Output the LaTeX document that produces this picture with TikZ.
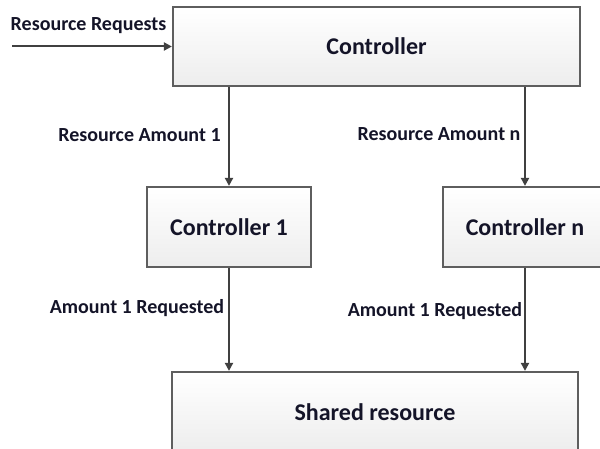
\documentclass[tikz,border=0pt]{standalone}
\usepackage{fontspec}
\setmainfont{Carlito}
\usetikzlibrary{arrows.meta}
\definecolor{boxline}{HTML}{5E5E5E}
\definecolor{arrowc}{HTML}{404040}
\definecolor{txt}{HTML}{141428}
\begin{document}
\begin{tikzpicture}[x=1pt,y=-1pt,
  box/.style={draw=boxline, line width=2.2pt, top color=white, bottom color=gray!14,
    inner sep=0pt, font=\bfseries\fontsize{24}{28}\selectfont, text=txt},
  conn/.style={draw=arrowc, line width=2pt, -{Triangle[length=8pt,width=8pt]}},
  lbl/.style={font=\bfseries\fontsize{20}{24}\selectfont, text=txt, inner sep=0pt}]
\useasboundingbox (0,0) rectangle (600,449);
\node[box, minimum width=407pt, minimum height=79pt] (ctrl) at (376.5,46.5) {Controller};
\node[box, minimum width=164pt, minimum height=80pt] (c1) at (229,227) {Controller 1};
\node[box, minimum width=164pt, minimum height=80pt] (cn) at (525,227) {Controller n};
\node[box, minimum width=406pt, minimum height=80pt] (sh) at (375,412) {Shared resource};
\coordinate (in) at (12,46.5);
\draw[conn] (in) -- (ctrl.west);
\draw[conn] (c1.north |- ctrl.south) -- (c1.north);
\draw[conn] (cn.north |- ctrl.south) -- (cn.north);
\draw[conn] (c1.south) -- (c1.south |- sh.north);
\draw[conn] (cn.south) -- (cn.south |- sh.north);
\node[lbl] (l0) at (88.5,26) {Resource Requests};
\node[lbl] (l1) at (139.5,135) {Resource Amount 1};
\node[lbl] (l2) at (439,134) {Resource Amount n};
\node[lbl] (l3) at (137,308) {Amount 1 Requested};
\node[lbl] (l4) at (435,311) {Amount 1 Requested};
\end{tikzpicture}
\end{document}
